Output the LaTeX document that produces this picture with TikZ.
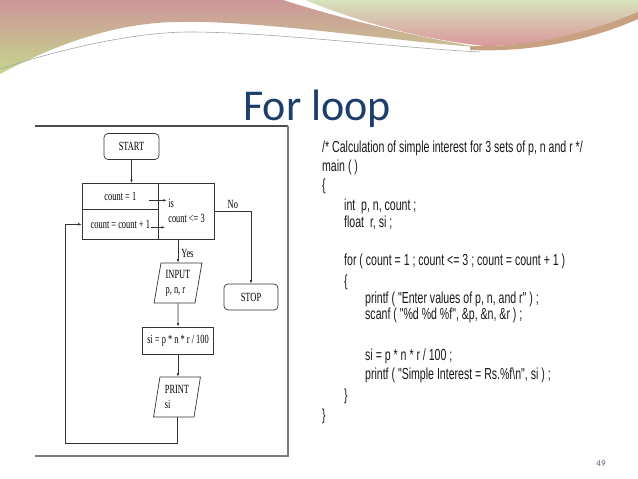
\documentclass[tikz,border=0pt]{standalone}
\usepackage{fontspec}
\setmainfont{Carlito}
\newfontfamily\chartfont[FakeStretch=0.67]{Liberation Serif}
\newfontfamily\codefont[FakeStretch=0.66]{Liberation Sans}
\usetikzlibrary{shapes.geometric,arrows.meta,calc}
\definecolor{titleblue}{RGB}{28,62,105}
\definecolor{wavepink}{RGB}{205,150,152}
\definecolor{wavegreen}{RGB}{196,214,140}
\definecolor{palegreen}{RGB}{214,226,188}
\definecolor{rosepink}{RGB}{218,152,155}
\definecolor{wavebrown}{RGB}{200,160,130}
\definecolor{framegray}{RGB}{125,125,125}
\definecolor{pagegray}{RGB}{85,95,115}
\tikzset{
  flow/.style={draw=black!80,line width=.7pt,inner sep=1pt,font=\chartfont\fontsize{12.5}{15}\selectfont},
  term/.style={flow,rounded corners=4pt,minimum width=55pt,minimum height=26pt},
  cell/.style={flow,anchor=north west},
  io/.style={flow,trapezium,trapezium left angle=79,trapezium right angle=101,trapezium stretches=true,minimum width=48pt,minimum height=40pt,align=left},
  link/.style={draw=black!80,line width=.6pt,-{Latex[length=3.5pt,width=2.6pt]}},
  tag/.style={inner sep=1pt,font=\chartfont\fontsize{12.5}{15}\selectfont},
  codeline/.style={anchor=base west,inner sep=0pt,text=black!90,font=\codefont\fontsize{16}{17}\selectfont}
}

\begin{document}
\begin{tikzpicture}[x=1pt,y=-1pt]
\fill[white] (0,0) rectangle (638,479);
\useasboundingbox (0,0) rectangle (638,479);
\shade[top color=wavepink,bottom color=wavegreen] (0,0) -- (283,0) .. controls (330,15) and (400,34) .. (478,47) .. controls (400,42) and (260,20) .. (180,22) .. controls (120,22) and (60,42) .. (0,74) -- cycle;
\shade[top color=palegreen,bottom color=rosepink] (305,0) -- (638,0) -- (638,14) .. controls (600,30) and (540,46) .. (485,46) .. controls (410,38) and (350,18) .. (305,0) -- cycle;
\fill[wavebrown] (470,46) .. controls (540,48) and (600,28) .. (638,12) -- (638,19) .. controls (600,36) and (540,53) .. (470,50) -- cycle;
\draw[black!35,line width=.6pt] (0,69) .. controls (70,46) and (140,32) .. (190,32) .. controls (270,32) and (400,48) .. (480,52);
\node[anchor=base west,inner sep=0pt,text=titleblue,font=\fontsize{44}{44}\selectfont] (title) at (243,120) {For loop};
\draw[black!70,line width=1.2pt] (35,126) -- (288,126);
\draw[framegray,line width=1.2pt] (288,126) -- (288,456) -- (35,456);
\node[term] (start) at (131.5,146.5) {START};
\node[cell,minimum width=76.6pt,minimum height=26pt] (init) at (81.7,183) {count = 1};
\node[cell,minimum width=76.6pt,minimum height=30pt] (incr) at (81.7,209) {count = count + 1};
\node[cell,minimum width=55.7pt,minimum height=56pt,align=left] (test) at (158.3,183) {is\\count <= 3};
\node[io] (input) at (178,283) {INPUT\\p, n, r};
\node[flow,minimum width=71pt,minimum height=27pt] (calc) at (178,340.5) {si = p * n * r / 100};
\node[io,minimum width=47pt] (print) at (177,397) {PRINT\\si};
\node[term,minimum width=54pt] (stop) at (251,297) {STOP};
\coordinate (back) at (65,443);
\draw[link] (start.south) -- (start.south |- init.north);
\draw[link] ($(init.east)+(-10,4)$) -- ($(test.west)+(8.5,-11)$);
\draw[link] ($(incr.east)+(-8,3)$) -- ($(incr.east)+(6,3)$);
\draw[link] (test.east) -| node[tag,pos=.25,above=1pt] {No} (stop.north);
\draw[link] (input.north |- test.south) -- node[tag,pos=.6,right=2pt] {Yes} (input.north);
\draw[link] (input.south) -- (calc.north);
\draw[link] (calc.south) -- (calc.south |- print.north);
\draw[link] (print.south) |- (back) |- (incr.west);
\node[codeline] (code1) at (322,152) {/* Calculation of simple interest for 3 sets of p, n and r */};
\node[codeline] (code2) at (322,171) {main ( )};
\node[codeline] (code3) at (322,190) {\{};
\node[codeline] (code4) at (344,210) {int\ \ p, n, count ;};
\node[codeline] (code5) at (344,227) {float\ \ r, si ;};
\node[codeline] (code6) at (344,265) {for ( count = 1 ; count <= 3 ; count = count + 1 )};
\node[codeline] (code7) at (344,286) {\{};
\node[codeline] (code8) at (365,303) {printf ( "Enter values of p, n, and r" ) ;};
\node[codeline] (code9) at (365,319) {scanf ( "\%d \%d \%f", \&p, \&n, \&r ) ;};
\node[codeline] (code10) at (365,360) {si = p * n * r / 100 ;};
\node[codeline] (code11) at (365,379) {printf ( "Simple Interest = Rs.\%f\textbackslash n", si ) ;};
\node[codeline] (code12) at (344,400) {\}};
\node[codeline] (code13) at (322,420) {\}};
\node[text=pagegray,font=\fontsize{9}{9}\selectfont] (page) at (601,464) {49};
\end{tikzpicture}
\end{document}
